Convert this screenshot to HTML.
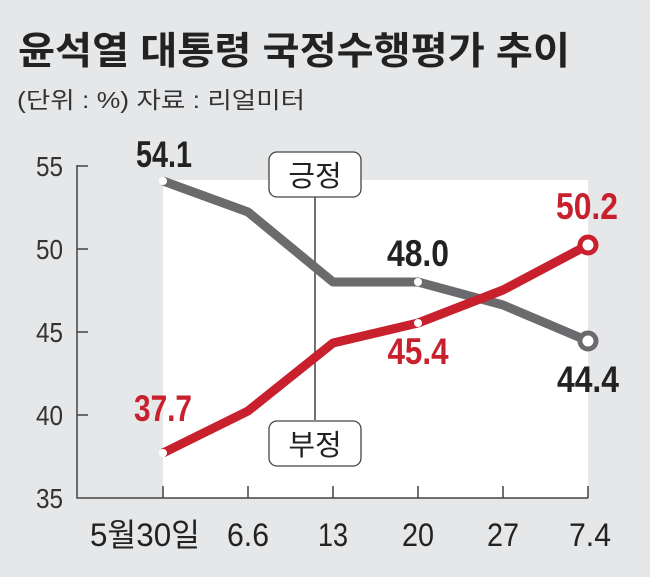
<!DOCTYPE html><html><head><meta charset="utf-8"><style>
body{margin:0;width:650px;height:577px;background:#e6e7e8;overflow:hidden;font-family:"Liberation Sans","Noto Sans CJK KR",sans-serif}
</style></head><body>
<svg width="650" height="577" xmlns="http://www.w3.org/2000/svg" style="position:absolute;left:0;top:0">
<rect x="0" y="0" width="650" height="577" fill="#e6e7e8"/>
<text x="18" y="64" font-size="38" font-weight="bold" fill="#222" font-family="Liberation Sans,Noto Sans CJK KR,sans-serif" textLength="552" lengthAdjust="spacingAndGlyphs">윤석열 대통령 국정수행평가 추이</text>
<text x="17" y="108" font-size="23" fill="#333" font-family="Liberation Sans,Noto Sans CJK KR,sans-serif" textLength="288" lengthAdjust="spacingAndGlyphs">(단위 : %)  자료 : 리얼미터</text>
<rect x="163" y="180" width="425" height="318" fill="#fff"/>
<g stroke="#444" stroke-width="1.5" fill="none">
<path d="M77 165V498H588"/>
<path d="M77 166H88M77 249H88M77 332H88M77 415H88"/>
<path d="M163 486V498M248 486V498M333 486V498M418 486V498M503 486V498M588 486V498"/>
<path d="M315 197V420"/>
</g>
<g font-family="Liberation Sans,sans-serif" font-size="28" fill="#333" text-anchor="end">
<text x="63" y="176" textLength="27" lengthAdjust="spacingAndGlyphs">55</text><text x="63" y="259" textLength="27" lengthAdjust="spacingAndGlyphs">50</text><text x="63" y="342" textLength="27" lengthAdjust="spacingAndGlyphs">45</text><text x="63" y="425" textLength="27" lengthAdjust="spacingAndGlyphs">40</text><text x="63" y="508" textLength="27" lengthAdjust="spacingAndGlyphs">35</text>
</g>
<g font-family="Liberation Sans,Noto Sans CJK KR,sans-serif" font-size="32" fill="#222" text-anchor="middle">
<text x="145" y="546" textLength="110" lengthAdjust="spacingAndGlyphs">5월30일</text><text x="248" y="546" textLength="42" lengthAdjust="spacingAndGlyphs">6.6</text><text x="333" y="546" textLength="30" lengthAdjust="spacingAndGlyphs">13</text><text x="418" y="546" textLength="32" lengthAdjust="spacingAndGlyphs">20</text><text x="503" y="546" textLength="32" lengthAdjust="spacingAndGlyphs">27</text><text x="590" y="546" textLength="42" lengthAdjust="spacingAndGlyphs">7.4</text>
</g>
<rect x="269" y="152" width="92" height="45" rx="8" fill="#fff" stroke="#444" stroke-width="1.3"/>
<rect x="269" y="421" width="92" height="45" rx="8" fill="#fff" stroke="#444" stroke-width="1.3"/>
<g font-family="Noto Sans CJK KR,sans-serif" font-size="29" fill="#222" text-anchor="middle"><text x="315" y="186">긍정</text><text x="315" y="455">부정</text></g>
<polyline points="163,181 248,212 333,282 418,282 503,305 588,341" fill="none" stroke="#6b6b6d" stroke-width="9" stroke-linejoin="round"/>
<polyline points="163,453 248,411 333,343 418,323 503,290 588,245" fill="none" stroke="#c8202c" stroke-width="9" stroke-linejoin="round"/>
<circle cx="163" cy="181" r="4" fill="#fff"/><circle cx="418" cy="282" r="4" fill="#fff"/>
<circle cx="163" cy="453" r="4" fill="#fff"/><circle cx="418" cy="323" r="4" fill="#fff"/>
<circle cx="588" cy="341" r="8" fill="#fff" stroke="#6b6b6d" stroke-width="5"/>
<circle cx="588" cy="245" r="8" fill="#fff" stroke="#c8202c" stroke-width="5"/>
<g font-family="Liberation Sans,sans-serif" font-size="37" font-weight="bold" text-anchor="middle">
<text x="164" y="167" fill="#222" textLength="56" lengthAdjust="spacingAndGlyphs">54.1</text>
<text x="418" y="266" fill="#222" textLength="62" lengthAdjust="spacingAndGlyphs">48.0</text>
<text x="588" y="392" fill="#222" textLength="62" lengthAdjust="spacingAndGlyphs">44.4</text>
<text x="163" y="421" fill="#c8202c" textLength="58" lengthAdjust="spacingAndGlyphs">37.7</text>
<text x="418" y="364" fill="#c8202c" textLength="61" lengthAdjust="spacingAndGlyphs">45.4</text>
<text x="587" y="219" fill="#c8202c" textLength="62" lengthAdjust="spacingAndGlyphs">50.2</text>
</g>
</svg>
</body></html>
